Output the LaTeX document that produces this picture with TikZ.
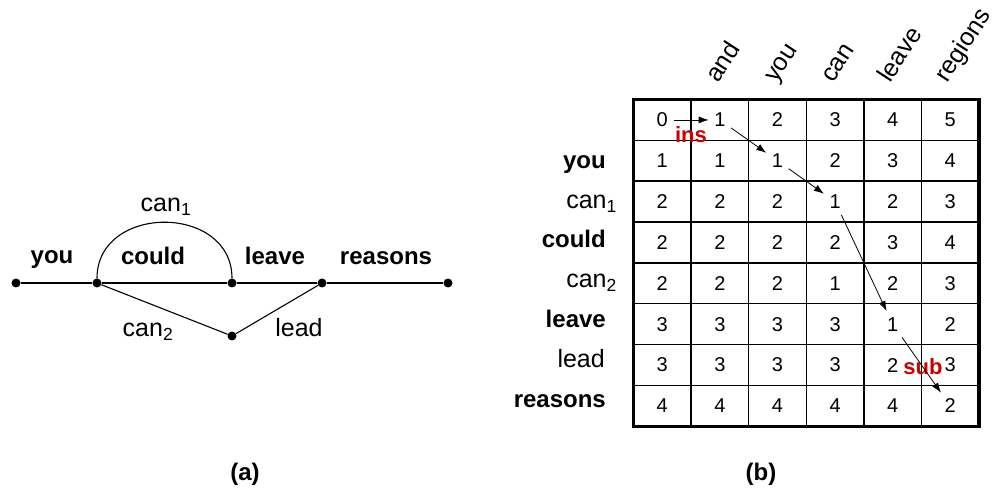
\documentclass[tikz,border=0pt]{standalone}
\usepackage{fontspec}
\setmainfont{Liberation Sans}
\usetikzlibrary{arrows.meta}
\definecolor{opred}{RGB}{204,0,0}

\begin{document}
\begin{tikzpicture}[x=1pt,y=-1pt,
  dot/.style={circle,fill,inner sep=0pt,minimum size=9pt},
  word/.style={font=\fontsize{24}{28}\selectfont\bfseries,inner sep=0pt},
  alt/.style={font=\fontsize{25}{28}\selectfont,inner sep=0pt},
  num/.style={font=\fontsize{20}{24}\selectfont,inner sep=0pt,minimum width=22pt,minimum height=26pt},
  op/.style={font=\fontsize{22}{24}\selectfont\bfseries,text=opred,inner sep=0pt},
  head/.style={font=\fontsize{25}{28}\selectfont,inner sep=0pt,rotate=57,anchor=base west},
  caption/.style={font=\fontsize{24}{28}\selectfont\bfseries,inner sep=0pt,anchor=base},
  trace/.style={-{Latex[length=10pt,width=7pt]},line width=0.8pt}]
\useasboundingbox (0,0) rectangle (996,502);

% lattice
\node[dot] (n0) at (16,283) {};
\node[dot] (n1) at (97,283) {};
\node[dot] (n2) at (232,283) {};
\node[dot] (n3) at (322,283) {};
\node[dot] (n4) at (448,283) {};
\node[dot] (n5) at (232,336) {};

\draw[line width=1.1pt] (n0) -- (n1) -- (n2) -- (n3) -- (n4);
\draw[line width=1.1pt] (n1) -- (n5) -- (n3);
\draw[line width=1.1pt] (n1) to[out=90,in=90,looseness=1.42] (n2);

\node[word,anchor=base] (wYou) at (52,264) {you};
\node[word,anchor=base] (wCould) at (153,265) {could};
\node[word,anchor=base] (wLeave) at (275,265) {leave};
\node[word,anchor=base] (wReasons) at (386,265) {reasons};
\node[alt,anchor=base] (wCanA) at (166,212) {can\textsubscript{1}};
\node[alt,anchor=base] (wCanB) at (148,337) {can\textsubscript{2}};
\node[alt,anchor=base] (wLead) at (299,337) {lead};

\node[caption] (capA) at (245,480) {(a)};

% distance table
\foreach \i in {1,...,5}
  \draw[line width=1.4pt] (633.5+\i*57.6,99.5) -- ++(0,326.8);
\foreach \i in {1,...,7}
  \draw[line width=1.4pt] (633.5,99.5+\i*40.85) -- ++(345.6,0);
\draw[line width=3.5pt] (633.5,99.5) rectangle (979.1,426.3);

\foreach \vals [count=\r] in {{0,1,2,3,4,5},{1,1,1,2,3,4},{2,2,2,1,2,3},{2,2,2,2,3,4},
    {2,2,2,1,2,3},{3,3,3,3,1,2},{3,3,3,3,2,3},{4,4,4,4,4,2}}
  \foreach \v [count=\c] in \vals
    \node[num] (c\r\c) at (633.5+57.6*\c-28.8,99.5+40.85*\r-20.4) {\v};

\node[head] (hAnd) at (718,84) {and};
\node[head] (hYou) at (776,84) {you};
\node[head] (hCan) at (833,84) {can};
\node[head] (hLeave) at (890,84) {leave};
\node[head] (hRegions) at (947,84) {regions};

\node[word,anchor=base east] (rYou) at (606,169) {you};
\node[alt,anchor=base east] (rCanA) at (617,209) {can\textsubscript{1}};
\node[word,anchor=base east] (rCould) at (606,248) {could};
\node[alt,anchor=base east] (rCanB) at (617,288) {can\textsubscript{2}};
\node[word,anchor=base east] (rLeave) at (606,328) {leave};
\node[alt,anchor=base east] (rLead) at (605,368) {lead};
\node[word,anchor=base east] (rReasons) at (606,407) {reasons};

\node[op] (ins) at (691,135) {ins};
\node[op] (sub) at (923,367) {sub};

\draw[trace] (c11) -- (c12);
\draw[trace] (c12) -- (c23);
\draw[trace] (c23) -- (c34);
\draw[trace] (c34) -- (c65);
\draw[trace] (c65) -- (c86);

\node[caption] (capB) at (761,480) {(b)};
\end{tikzpicture}
\end{document}
